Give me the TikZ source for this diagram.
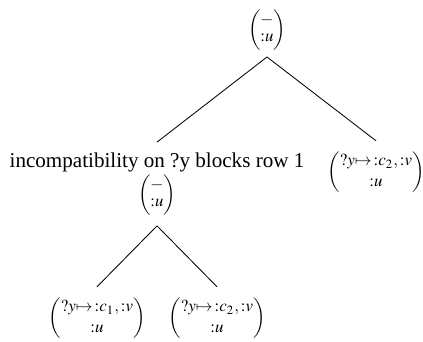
\documentclass[tikz,border=0pt]{standalone}
\usepackage{amsmath}
\usepackage{mathptmx}
\usepackage{fontspec}
\setmainfont{Liberation Serif}
\usetikzlibrary{positioning}

\begin{document}
\begin{tikzpicture}[
    x=0.474pt, y=-0.474pt,
    state/.style={inner sep=5pt, font=\footnotesize},
    bare/.style={state, inner sep=3pt, font=\footnotesize\renewcommand{\arraystretch}{0.85}},
    blocked/.style={inner sep=5pt, align=center},
    branch/.style={draw=black}
]
    \useasboundingbox (0,0) rectangle (423,342);
    \node [bare] (root) at (267,30) {$\begin{pmatrix}-\\{:}u\end{pmatrix}$};
    \node [blocked] (rowone) at (157,184) {incompatibility on ?y blocks row 1\\{\footnotesize\renewcommand{\arraystretch}{0.85}$\begin{pmatrix}-\\{:}u\end{pmatrix}$}};
    \node [state] (yctwo) at (376,172) {$\begin{pmatrix}?y{\mapsto}\,{:}c_2,{:}v\\{:}u\end{pmatrix}$};
    \node [state] (leftleaf) at (97,318) {$\begin{pmatrix}?y{\mapsto}\,{:}c_1,{:}v\\{:}u\end{pmatrix}$};
    \node [state] (rightleaf) at (217,318) {$\begin{pmatrix}?y{\mapsto}\,{:}c_2,{:}v\\{:}u\end{pmatrix}$};

    \draw [branch] (root.south) -- (rowone.north);
    \draw [branch] (root.south) -- (yctwo.north);
    \draw [branch] (rowone.south) -- (leftleaf.north);
    \draw [branch] (rowone.south) -- (rightleaf.north);
\end{tikzpicture}
\end{document}
